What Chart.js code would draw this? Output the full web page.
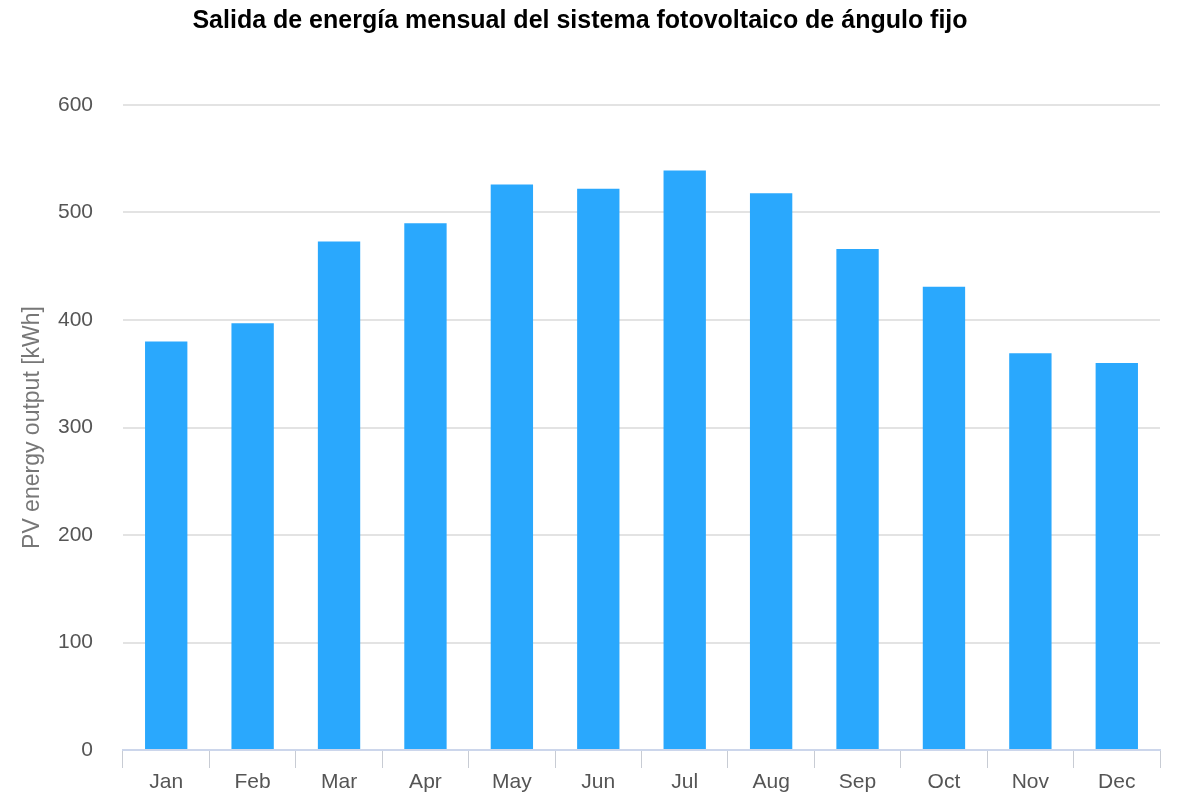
<!DOCTYPE html>
<html>
<head>
<meta charset="utf-8">
<script src="https://cdn.jsdelivr.net/npm/chart.js@4"></script>
<style>
html,body{margin:0;padding:0;background:#fff;}
#wrap{width:1192px;height:802px;position:relative;}
</style>
</head>
<body>
<div id="wrap"><canvas id="c" width="1192" height="802"></canvas></div>
<script>
const titleText = 'Salida de energía mensual del sistema fotovoltaico de ángulo fijo';
const yAxisTitle = 'PV energy output [kWh]';
const months = ['Jan','Feb','Mar','Apr','May','Jun','Jul','Aug','Sep','Oct','Nov','Dec'];
const pvOutput = [380, 397, 473, 490, 526, 522, 539, 518, 466, 431, 369, 360];
const yTicks = [0, 100, 200, 300, 400, 500, 600];

Chart.defaults.font.family = '"Liberation Sans", Arial, sans-serif';

new Chart(document.getElementById('c'), {
  type: 'bar',
  data: {
    labels: months,
    datasets: [{
      data: pvOutput,
      backgroundColor: '#2aa8fd',
      borderWidth: 0,
      barPercentage: 0.49,
      categoryPercentage: 1.0
    }]
  },
  options: {
    responsive: false,
    animation: false,
    layout: { padding: { left: 0, right: 32, top: 0, bottom: 0 } },
    plugins: {
      legend: { display: false },
      tooltip: { enabled: false },
      title: {
        display: true,
        text: titleText,
        color: '#000',
        font: { size: 25, weight: 'bold' },
        padding: { top: 6, bottom: 69 }
      }
    },
    scales: {
      x: {
        grid: { display: true, drawOnChartArea: false, color: '#c8ccd4', tickLength: 18, offset: true },
        border: { display: true, color: '#ccd6eb', width: 2 },
        ticks: { color: '#555', font: { size: 21 }, padding: 2 },
        afterFit: s => { s.height = 52; }
      },
      y: {
        min: 0, max: 600,
        afterBuildTicks: s => { s.ticks = yTicks.map(v => ({ value: v })); },
        grid: { color: '#e3e3e3', drawTicks: false, lineWidth: 2 },
        border: { display: false },
        ticks: { color: '#555', font: { size: 21 }, padding: 30 },
        title: { display: true, text: yAxisTitle, color: '#777', font: { size: 23 }, padding: { top: 19, bottom: 0 } },
        afterFit: s => { s.width = 123; }
      }
    }
  }
});
</script>
</body>
</html>
